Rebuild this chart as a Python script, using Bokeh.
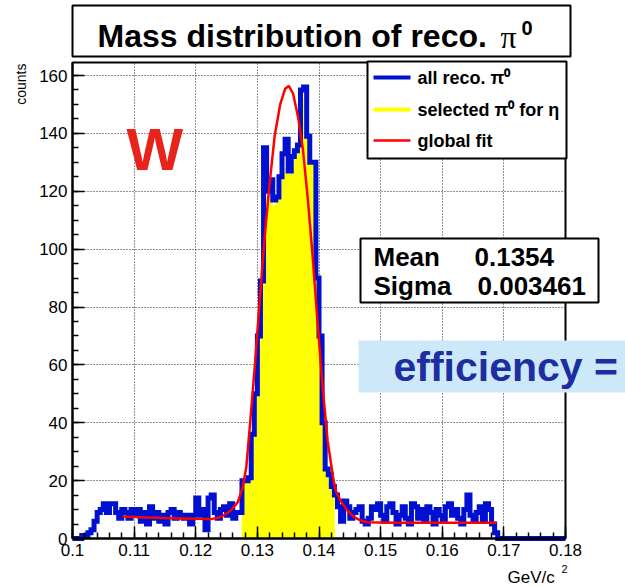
from bokeh.plotting import figure
from bokeh.models import BoxAnnotation, Label, FixedTicker, Range1d
from bokeh.embed import file_html
from bokeh.resources import INLINE

# ---------------- data ----------------
X_LO, X_HI, BIN_W = 0.1, 0.18, 0.0005
Y_MAX = 164.5

# all reconstructed pi0 : counts per 0.0005 GeV/c^2 bin, 0.100 ... 0.180
all_counts = [
    0, 0, 0, 1, 1, 2, 3, 6, 9, 10,
    12, 9, 12, 12, 9, 7, 10, 9, 7, 10,
    8, 10, 6, 9, 5, 11, 7, 9, 6, 8,
    5, 9, 10, 7, 9, 8, 7, 8, 5, 8,
    14, 8, 10, 3, 14, 15, 9, 7, 10, 11,
    8, 12, 7, 9, 9,
    20, 20, 21, 36, 50, 70, 89, 135, 120, 124,
    117, 118, 125, 133, 138, 127, 132, 134, 136, 155,
    156, 139, 130, 130, 90, 70, 40, 24, 22, 18,
    15, 11,
    6, 13, 11, 7, 9, 10, 11, 6, 5, 7,
    11, 10, 12, 8, 6, 11, 12, 9, 5, 8,
    11, 7, 5, 12, 11, 7, 10, 6, 11, 9,
    5, 10, 8, 6, 11, 12, 8, 10, 7, 5,
    10, 15, 8, 6, 9, 11, 6, 12, 10, 5,
    2,
    0, 0, 0, 0, 0, 0, 0, 0, 0, 0, 0,
    0, 0, 0, 0, 0, 0, 0, 0, 0, 0, 0,
]

# selected pi0 for eta : 0.1275 ... 0.1425
sel_lo = 0.1275
sel_counts = [
    20, 20, 21, 36, 50, 68, 88, 118, 118, 116,
    115, 116, 122, 126, 128, 126, 129, 131, 134, 150,
    152, 139, 130, 130, 90, 70, 40, 24, 22, 18,
]

# global fit curve
fit_x = [0.1081, 0.112, 0.116, 0.120, 0.1225, 0.1241, 0.1257, 0.1268, 0.1276,
         0.1282, 0.1288, 0.1296, 0.1304, 0.1312, 0.1320, 0.1328, 0.1337, 0.1345,
         0.1351, 0.1358, 0.1366, 0.1374, 0.1382, 0.1390, 0.1398, 0.1406, 0.1414,
         0.1423, 0.1427, 0.1435, 0.1446, 0.1457, 0.1468, 0.1478, 0.1527, 0.1608,
         0.1688]
fit_y = [7.6, 7.3, 7.0, 6.8, 6.7, 7.4, 9.7, 12.5, 17.5,
         24.6, 39.4, 60, 83, 104.6, 123, 139, 150, 155.4,
         156.4, 153.7, 145.7, 134.3, 117, 96.6, 73.7, 52, 33.7,
         21, 16.6, 13, 9.7, 7.4, 6.2, 5.6, 5.4, 5.4,
         5.4]

x_ticks = [0.1, 0.11, 0.12, 0.13, 0.14, 0.15, 0.16, 0.17, 0.18]
x_tick_labels = ["0.1", "0.11", "0.12", "0.13", "0.14", "0.15", "0.16", "0.17", "0.18"]
y_ticks = [0, 20, 40, 60, 80, 100, 120, 140, 160]

mean_val = "0.1354"
sigma_val = "0.003461"

# ---------------- figure ----------------
W, H = 625, 587
FL, FR, FT, FB = 72, 565, 62, 538   # plotting-frame edges in canvas pixels


def dx(cx):
    return X_LO + (cx - FL) / (FR - FL) * (X_HI - X_LO)


def dy(cy):
    return (FB - cy) / (FB - FT) * Y_MAX


# the bokeh frame spans the whole canvas so that boxes outside the axes are not clipped
p = figure(width=W, height=H, x_range=Range1d(dx(0), dx(W)), y_range=Range1d(dy(H), dy(0)),
           output_backend="svg", toolbar_location=None, title=None,
           min_border=0, min_border_left=0, min_border_right=0, min_border_top=0, min_border_bottom=0,
           background_fill_color="white", border_fill_color="white", outline_line_color=None)

FONT = "Liberation Sans"

# axes, pinned to the histogram frame
p.xaxis.fixed_location = 0
p.yaxis.fixed_location = X_LO
p.xaxis.bounds = (X_LO, X_HI)
p.yaxis.bounds = (0, Y_MAX)
p.xaxis.ticker = FixedTicker(ticks=x_ticks,
                             minor_ticks=[round(X_LO + 0.002 * i, 4) for i in range(41)])
p.yaxis.ticker = FixedTicker(ticks=y_ticks, minor_ticks=list(range(0, 165, 5)))
p.xaxis.major_label_overrides = {t: l for t, l in zip(x_ticks, x_tick_labels)}
for ax in (p.xaxis, p.yaxis):
    ax.axis_line_width = 2
    ax.axis_line_color = "black"
    ax.major_tick_in = 12
    ax.major_tick_out = 0
    ax.minor_tick_in = 6
    ax.minor_tick_out = 0
    ax.major_tick_line_width = 1.5
    ax.minor_tick_line_width = 1.5
    ax.major_tick_line_color = "black"
    ax.minor_tick_line_color = "black"
    ax.major_label_text_font = FONT
    ax.major_label_text_font_size = "17px"
    ax.major_label_text_color = "black"
    ax.major_label_standoff = 5

grid_ok = True
try:
    p.xgrid.cross_bounds = (0, Y_MAX)
    p.ygrid.cross_bounds = (X_LO, X_HI)
except Exception:
    grid_ok = False

if grid_ok:
    p.xgrid.ticker = FixedTicker(ticks=x_ticks[1:-1])
    p.ygrid.ticker = FixedTicker(ticks=y_ticks[1:])
    for g in (p.xgrid, p.ygrid):
        g.grid_line_color = "#222222"
        g.grid_line_dash = "1 2"
        g.grid_line_width = 1
else:
    p.xgrid.visible = False
    p.ygrid.visible = False
    gx = x_ticks[1:-1]
    p.segment(x0=gx, x1=gx, y0=[0] * len(gx), y1=[Y_MAX] * len(gx),
              line_color="#222222", line_dash="1 2", line_width=1)
    gy = y_ticks[1:]
    p.segment(x0=[X_LO] * len(gy), x1=[X_HI] * len(gy), y0=gy, y1=gy,
              line_color="#222222", line_dash="1 2", line_width=1)

# histograms
n = len(all_counts)
edges = [X_LO + i * BIN_W for i in range(n + 1)]
i0 = int(round((sel_lo - X_LO) / BIN_W))
p.quad(left=edges[i0:i0 + len(sel_counts)], right=edges[i0 + 1:i0 + 1 + len(sel_counts)],
       bottom=0, top=sel_counts, fill_color="#ffff00", line_color="#ffff00", line_width=0.6)
BLUE = "#0010d0"
p.step(x=edges, y=all_counts + [all_counts[-1]], mode="after",
       line_color=BLUE, line_width=5, line_join="miter")
p.line(fit_x, fit_y, line_color="#ff0000", line_width=2.5)

# frame border
p.add_layout(BoxAnnotation(left=X_LO, right=X_HI, bottom=0, top=Y_MAX,
                           fill_alpha=0, line_color="black", line_alpha=1, line_width=2))


def box(l, r, t, b, fill, border=True):
    p.add_layout(BoxAnnotation(left=dx(l), right=dx(r), top=dy(t), bottom=dy(b),
                               fill_color=fill, fill_alpha=1,
                               line_color="black", line_alpha=1 if border else 0, line_width=2))


def text(x, y, s, size, bold=True, color="black", font=FONT, **kw):
    p.add_layout(Label(x=dx(x), y=dy(y), text=s, text_font=font,
                       text_font_style="bold" if bold else "normal",
                       text_font_size=size, text_color=color, text_baseline="middle", **kw))


# title box
box(72, 570, 5, 56, "white")
text(97, 35.5, "Mass distribution of reco.", "32px")
text(500, 36, "π", "32px", bold=False, font="Liberation Serif")
text(521, 27, "0", "20px")

# legend
box(367, 566, 61, 158, "white")
legend_rows = [("all reco.  π⁰", BLUE, 4, 77), ("selected  π⁰ for  η", "#ffff00", 4, 109),
               ("global fit", "#ff0000", 2.5, 140)]
for txt, col, lw, cy in legend_rows:
    p.add_layout(BoxAnnotation(left=dx(373), right=dx(410), top=dy(cy - lw / 2), bottom=dy(cy + lw / 2),
                               fill_color=col, fill_alpha=1, line_alpha=0))
    text(417, cy, txt, "18px")

# stats box
box(360, 598, 238, 302, "white")
text(373, 256.5, "Mean", "26px")
text(474, 256.5, mean_val, "26px")
text(373, 285, "Sigma", "26px")
text(477, 285, sigma_val, "26px")

# efficiency box
box(358, 640, 340, 392, "#cde8f9", border=False)
text(393, 366, "efficiency =", "41px", color="#1c2ea0")

# W mark
text(126, 149, "W", "60px", color="#e8231c")

# axis titles
text(20, 63, "counts", "14px", bold=False, angle=90, angle_units="deg", text_align="right")
text(507, 577, "GeV/c", "17px", bold=False)
text(561, 568, "2", "11px", bold=False)

open("out.html", "w").write(file_html(p, INLINE))
